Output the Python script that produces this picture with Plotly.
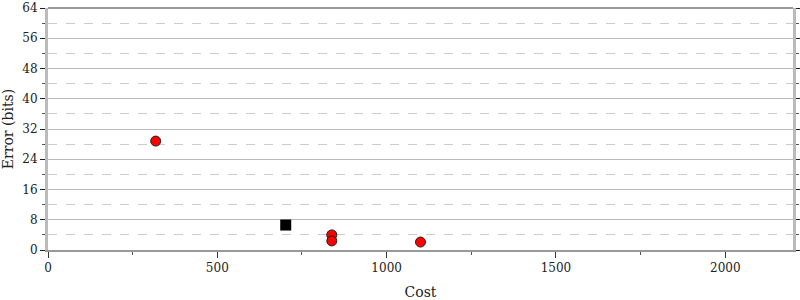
import plotly.graph_objects as go

# data
red_cost = [318, 838, 838, 1100]
red_error = [28.8, 4.0, 2.4, 2.1]
black_cost = [702]
black_error = [6.6]
x_ticks = [0, 500, 1000, 1500, 2000]
y_ticks = [0, 8, 16, 24, 32, 40, 48, 56, 64]

fig = go.Figure()
fig.add_trace(go.Scatter(x=red_cost, y=red_error, mode="markers",
                         marker=dict(color="red", size=10, line=dict(color="#222", width=1))))
fig.add_trace(go.Scatter(x=black_cost, y=black_error, mode="markers",
                         marker=dict(color="black", symbol="square", size=11)))

font = dict(family="DejaVu Serif", size=12, color="#222")
fig.update_layout(
    width=800, height=300, showlegend=False,
    margin=dict(l=48, r=7, t=8, b=50, autoexpand=False),
    plot_bgcolor="white", paper_bgcolor="white",
    font=font,
    xaxis=dict(range=[0, 2200], tickvals=x_ticks, ticktext=[str(v) for v in x_ticks],
               showgrid=False, zeroline=False, showline=True, linecolor="#999", linewidth=2,
               ticks="outside", ticklen=6, tickcolor="#333", automargin=False,
               minor=dict(tickvals=[250, 750, 1250, 1750], ticks="outside", ticklen=3, tickcolor="#555"),
               title=dict(text="Cost", standoff=14), mirror=False),
    yaxis=dict(range=[0, 64], tickvals=y_ticks, ticktext=[str(v) for v in y_ticks],
               showgrid=True, gridcolor="#bbb", gridwidth=1, zeroline=False,
               showline=True, linecolor="#bbb", linewidth=3, mirror="ticks",
               ticks="outside", ticklen=5, tickcolor="#222", automargin=False,
               minor=dict(dtick=4, tick0=0, showgrid=True, griddash="dash", gridcolor="#ccc",
                          ticks="outside", ticklen=3, tickcolor="#555"),
               title=dict(text="Error (bits)", standoff=6)),
)
fig.add_shape(type="line", xref="paper", yref="paper", x0=0, x1=1, y0=1, y1=1,
              line=dict(color="#999", width=2))
fig.write_html("out.html")
